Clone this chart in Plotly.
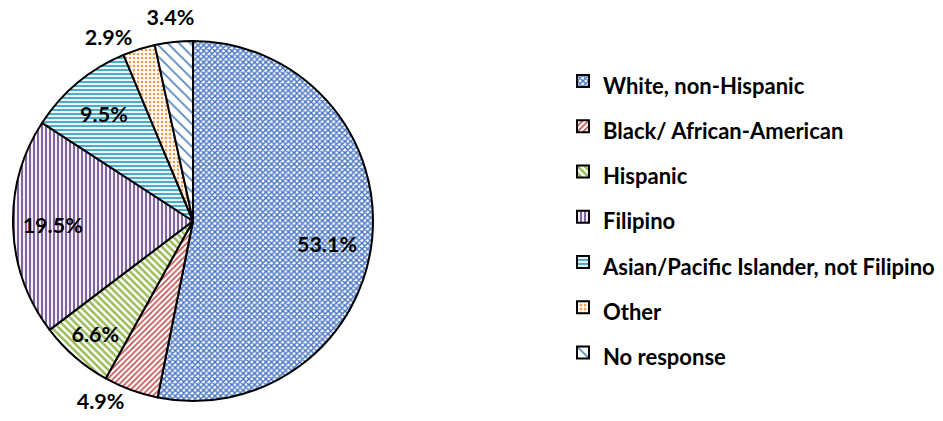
import plotly.graph_objects as go

# ── Data ──────────────────────────────────────────────────────────────────────
GROUPS = [
    "White, non-Hispanic",
    "Black/ African-American",
    "Hispanic",
    "Filipino",
    "Asian/Pacific Islander, not Filipino",
    "Other",
    "No response",
]
SHARES = [53.1, 4.9, 6.6, 19.5, 9.5, 2.9, 3.4]

# ── Style ─────────────────────────────────────────────────────────────────────
FG = ["#4472C4", "#C0504D", "#9BBB59", "#8064A2", "#4BACC6", "#F79646", "#4F81BD"]
SHAPES = ["x", "/", "\\", "|", "-", ".", "\\"]
SIZES = [4, 4, 5, 4, 4, 4, 8]
SOLID = [0.6, 0.4, 0.5, 0.55, 0.55, 0.35, 0.2]
FONT = "Lato, 'Open Sans', Arial, sans-serif"
NB = "\u00a0"
DOMAIN = dict(x=[13 / 943, 373 / 943], y=[20 / 421, 380 / 421])

# legend labels: smaller span inside a big legend font -> taller rows
legend_labels = [f"<span style='font-size:22px'>{g}</span>" for g in GROUPS]

# slice labels, nbsp padding nudges the text like Excel's label placement
labels_txt = [f"{v:.1f}%" for v in SHARES]
labels_txt[0] = NB + "<br>" + NB * 17 + labels_txt[0]
labels_txt[3] = labels_txt[3] + NB * 10
labels_txt[6] = labels_txt[6] + NB * 2 + "<br>" + NB + "<br>" + NB + "<br>" + NB

main_pos = ["inside", "outside", "inside", "inside", "inside", "none", "none"]
TXT = dict(family=FONT, size=21.5, color="#000000", weight="bold")

fig = go.Figure()
fig.add_trace(go.Pie(
    labels=legend_labels,
    values=SHARES,
    text=labels_txt,
    sort=False,
    direction="clockwise",
    rotation=0,
    texttemplate="%{text}",
    textposition=main_pos,
    insidetextorientation="horizontal",
    textfont=TXT,
    hoverinfo="skip",
    marker=dict(
        colors=["#ffffff"] * len(GROUPS),
        line=dict(color="#000000", width=2),
        pattern=dict(
            shape=SHAPES,
            fgcolor=FG,
            bgcolor=["#ffffff"] * len(GROUPS),
            fillmode="replace",
            fgopacity=1,
            size=SIZES,
            solidity=SOLID,
        ),
    ),
    domain=DOMAIN,
    showlegend=True,
))

# the two thin top slices get their own label layers (no label pushing)
for i, where in ((5, "outside"), (6, "inside")):
    pos = ["none"] * len(GROUPS)
    pos[i] = where
    fig.add_trace(go.Pie(
        labels=legend_labels,
        values=SHARES,
        text=labels_txt,
        sort=False,
        direction="clockwise",
        rotation=0,
        texttemplate="%{text}",
        textposition=pos,
        insidetextorientation="horizontal",
        textfont=TXT,
        hoverinfo="skip",
        marker=dict(colors=["rgba(0,0,0,0)"] * len(GROUPS),
                    line=dict(width=0)),
        domain=DOMAIN,
        showlegend=False,
    ))

fig.update_layout(
    width=943,
    height=421,
    margin=dict(l=0, r=0, t=0, b=0),
    paper_bgcolor="#ffffff",
    plot_bgcolor="#ffffff",
    font=dict(family=FONT, color="#000000"),
    uniformtext=dict(minsize=21.5, mode="show"),
    legend=dict(
        x=0.597, y=0.485, xanchor="left", yanchor="middle",
        font=dict(family=FONT, size=32.5, color="#000000", weight="bold"),
        bgcolor="rgba(0,0,0,0)",
        itemclick=False, itemdoubleclick=False,
    ),
)

fig.write_html(
    "out.html",
    config={"displayModeBar": False},
    post_script="document.body.style.margin='0';",
)
